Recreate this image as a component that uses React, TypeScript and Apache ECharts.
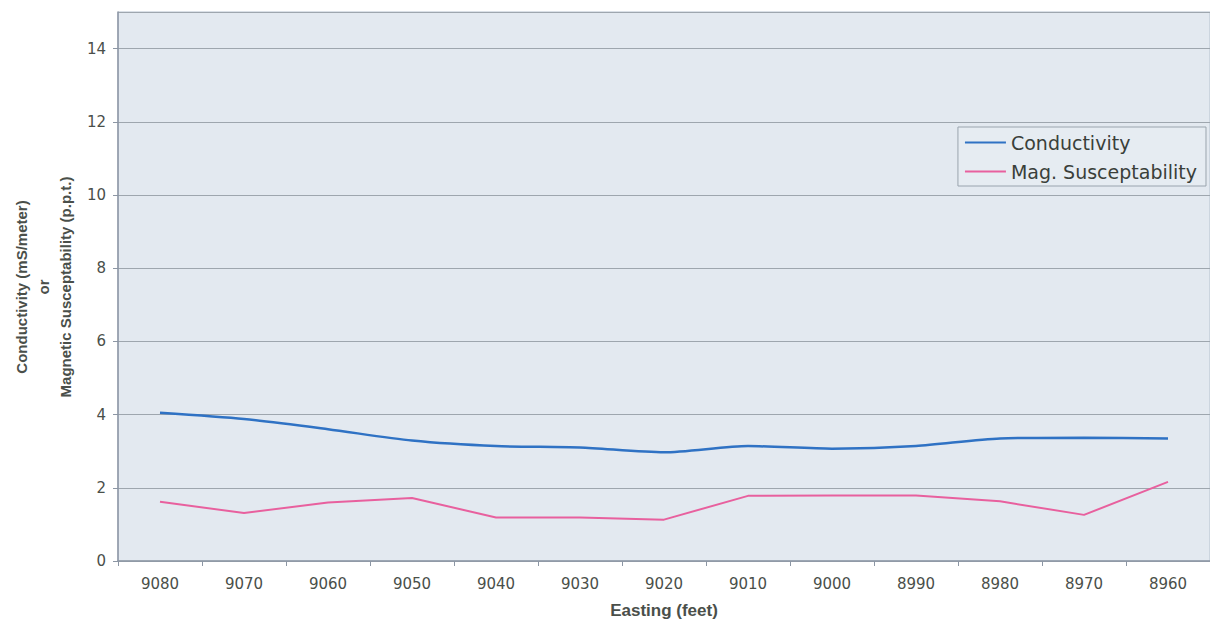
import React, { useEffect, useRef } from "react";
import * as echarts from "echarts";

const categories = ["9080", "9070", "9060", "9050", "9040", "9030", "9020", "9010", "9000", "8990", "8980", "8970", "8960"];
const conductivity = [4.05, 3.88, 3.6, 3.29, 3.14, 3.1, 2.97, 3.14, 3.07, 3.14, 3.35, 3.37, 3.35];
const magSusceptibility = [1.62, 1.31, 1.6, 1.72, 1.19, 1.19, 1.13, 1.78, 1.79, 1.79, 1.63, 1.26, 2.16];
const yTicks = { min: 0, max: 15, interval: 2 };

export default function App() {
  const ref = useRef<HTMLDivElement>(null);
  useEffect(() => {
    if (!ref.current) return;
    const chart = echarts.init(ref.current, null, { renderer: "svg" });
    chart.setOption({
      animation: false,
      backgroundColor: "#ffffff",
      textStyle: { fontFamily: "DejaVu Sans, sans-serif" },
      grid: {
        left: 118,
        right: 0,
        top: 12,
        bottom: 64,
        show: true,
        backgroundColor: "#e3e9f0",
        borderColor: "#b4c0cf",
        borderWidth: 1,
      },
      legend: {
        orient: "vertical",
        right: 4,
        top: 127,
        itemWidth: 41,
        itemHeight: 2,
        itemGap: 10,
        padding: [6, 9, 5, 7],
        backgroundColor: "#e6ecf2",
        borderColor: "#9aa4ae",
        borderWidth: 1,
        textStyle: { fontSize: 19, color: "#3a3f3a", fontFamily: "DejaVu Sans, sans-serif" },
        data: [
          { name: "Conductivity", icon: "rect" },
          { name: "Mag. Susceptability", icon: "rect" },
        ],
      },
      xAxis: {
        type: "category",
        data: categories,
        boundaryGap: true,
        name: "Easting (feet)",
        nameLocation: "middle",
        nameGap: 41,
        nameTextStyle: { fontSize: 17, fontWeight: "bold", color: "#4a4f4a", fontFamily: "Liberation Sans, Arial, sans-serif" },
        axisLine: { lineStyle: { color: "#8c96a4", width: 1.5 } },
        axisTick: { show: true, length: 5, lineStyle: { color: "#8c96a4" } },
        axisLabel: { fontSize: 15, color: "#4a4f4a", margin: 15 },
        splitLine: { show: false },
      },
      yAxis: {
        type: "value",
        min: yTicks.min,
        max: yTicks.max,
        interval: yTicks.interval,
        axisLine: { show: true, lineStyle: { color: "#8c96a4", width: 1.5 } },
        axisTick: { show: true, length: 5, lineStyle: { color: "#8c96a4" } },
        axisLabel: { fontSize: 15, color: "#4a4f4a", margin: 12, showMaxLabel: false },
        splitLine: { show: true, lineStyle: { color: "#9ea6ae", width: 1 } },
      },
      graphic: [
        {
          type: "text",
          x: 43,
          y: 287,
          rotation: Math.PI / 2,
          style: {
            text: "Conductivity (mS/meter)\nor\nMagnetic Susceptability (p.p.t.)",
            fontSize: 15,
            fontWeight: "bold",
            lineHeight: 22,
            fill: "#4a4f4a",
            align: "center",
            verticalAlign: "middle",
            fontFamily: "Liberation Sans, Arial, sans-serif",
          },
        },
      ],
      series: [
        {
          name: "Conductivity",
          type: "line",
          data: conductivity,
          smooth: 0.25,
          symbol: "none",
          lineStyle: { color: "#2f72c4", width: 2.5 },
          itemStyle: { color: "#2f72c4" },
        },
        {
          name: "Mag. Susceptability",
          type: "line",
          data: magSusceptibility,
          symbol: "none",
          lineStyle: { color: "#e8609e", width: 2 },
          itemStyle: { color: "#e8609e" },
        },
      ],
    });
    return () => chart.dispose();
  }, []);
  return <div ref={ref} style={{ position: "fixed", left: 0, top: 0, width: 1210, height: 625 }} />;
}
